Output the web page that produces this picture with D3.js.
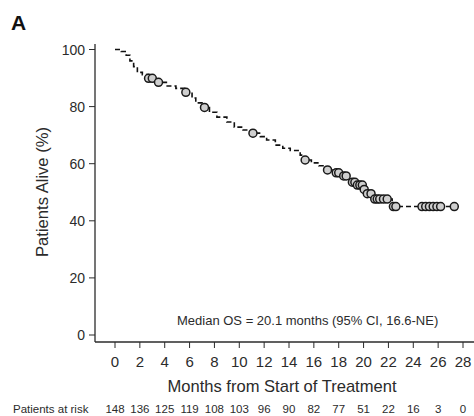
<!DOCTYPE html>
<html>
<head>
<meta charset="utf-8">
<script src="https://cdn.jsdelivr.net/npm/d3@7"></script>
<style>
  body { margin: 0; background: #fff; }
  svg { display: block; font-family: "Liberation Sans", Arial, sans-serif; }
</style>
</head>
<body>
<div id="chart"></div>
<script>
// KM step function: time (months) and survival (%) after each step
const stepTimes = [0, 0.5, 0.9, 1.2, 1.5, 1.8, 2.2, 2.7, 3.4, 4.2, 4.9, 5.6, 6.2, 6.5, 7.0, 7.6, 8.2, 9.0, 9.6, 10.3,
  11.0, 11.7, 12.2, 12.9, 13.5, 14.1, 14.9, 15.2, 15.8, 16.4, 16.9, 17.6, 18.3, 18.7, 19.0, 19.4, 20.0, 20.1, 20.8, 22.3];
const stepSurv = [100, 99.3, 98.0, 96.0, 94.0, 92.0, 91.2, 89.9, 88.5, 87.2, 86.4, 85.0, 83.0, 81.3, 79.7, 78.0, 76.3, 74.6, 72.8, 71.8,
  70.7, 69.5, 68.3, 66.5, 65.4, 64.6, 63.0, 61.3, 60.3, 59.3, 57.8, 56.8, 55.7, 54.6, 53.5, 52.5, 51.0, 49.5, 47.6, 45.0];
const endTime = 27.3;

// censored observations (months)
const censorTimes = [2.7, 3.0, 3.5, 5.7, 7.2, 11.1, 15.3, 17.1, 17.8, 18.0, 18.4, 18.6, 19.1, 19.3, 19.5, 19.7, 19.9, 20.05,
  20.3, 20.6, 20.9, 21.1, 21.3, 21.6, 21.9, 22.4, 22.6, 24.7, 25.0, 25.3, 25.6, 25.9, 26.2, 27.3];

const xTicks = [0, 2, 4, 6, 8, 10, 12, 14, 16, 18, 20, 22, 24, 26, 28];
const yTicks = [0, 20, 40, 60, 80, 100];
const atRisk = [148, 136, 125, 119, 108, 103, 96, 90, 82, 77, 51, 22, 16, 3, 0];

const width = 474, height = 416;
const svg = d3.select('#chart').append('svg')
  .attr('width', width)
  .attr('height', height);

const x = d3.scaleLinear().domain([0, 28]).range([115, 463]);
const y = d3.scaleLinear().domain([0, 100]).range([335, 49.5]);

const ink = '#2b2b2b';

// survival at time t
function survAt(t) {
  let s = stepSurv[0];
  for (let i = 0; i < stepTimes.length; i++) {
    if (stepTimes[i] <= t) s = stepSurv[i];
  }
  return s;
}

// axes
svg.append('line')
  .attr('x1', 95).attr('x2', 95)
  .attr('y1', 44).attr('y2', 342)
  .attr('stroke', ink).attr('stroke-width', 1.3);
svg.append('line')
  .attr('x1', 95).attr('x2', 474)
  .attr('y1', 342).attr('y2', 342)
  .attr('stroke', ink).attr('stroke-width', 1.3);

const yAxis = svg.append('g');
yTicks.forEach(v => {
  yAxis.append('line')
    .attr('x1', 89).attr('x2', 95)
    .attr('y1', y(v)).attr('y2', y(v))
    .attr('stroke', ink).attr('stroke-width', 1);
  yAxis.append('text')
    .attr('x', 85).attr('y', y(v) + 5)
    .attr('text-anchor', 'end')
    .attr('font-size', 14)
    .attr('fill', ink)
    .text(v);
});

const xAxis = svg.append('g');
xTicks.forEach(v => {
  xAxis.append('line')
    .attr('x1', x(v)).attr('x2', x(v))
    .attr('y1', 342).attr('y2', 348)
    .attr('stroke', ink).attr('stroke-width', 1);
  xAxis.append('text')
    .attr('x', x(v)).attr('y', 367)
    .attr('text-anchor', 'middle')
    .attr('font-size', 15)
    .attr('fill', ink)
    .text(v);
});

// axis titles
svg.append('text')
  .attr('x', 282).attr('y', 392)
  .attr('text-anchor', 'middle')
  .attr('font-size', 17)
  .attr('fill', ink)
  .attr('textLength', 229)
  .attr('lengthAdjust', 'spacingAndGlyphs')
  .text('Months from Start of Treatment');

svg.append('text')
  .attr('transform', 'translate(48,192) rotate(-90)')
  .attr('text-anchor', 'middle')
  .attr('font-size', 16)
  .attr('fill', ink)
  .attr('textLength', 130)
  .attr('lengthAdjust', 'spacingAndGlyphs')
  .text('Patients Alive (%)');

// panel letter
svg.append('text')
  .attr('x', 11).attr('y', 30)
  .attr('font-size', 21)
  .attr('font-weight', 'bold')
  .attr('fill', '#111')
  .text('A');

// annotation
svg.append('text')
  .attr('x', 177).attr('y', 325)
  .attr('font-size', 13)
  .attr('fill', ink)
  .text('Median OS = 20.1 months (95% CI, 16.6-NE)');

// patients at risk
svg.append('text')
  .attr('x', 13).attr('y', 413)
  .attr('font-size', 11.5)
  .attr('fill', ink)
  .text('Patients at risk');
svg.append('g').selectAll('text')
  .data(atRisk)
  .join('text')
  .attr('x', (d, i) => x(xTicks[i]))
  .attr('y', 413)
  .attr('text-anchor', 'middle')
  .attr('font-size', 11.5)
  .attr('fill', ink)
  .text(d => d);

// KM curve
const pts = stepTimes.map((t, i) => [t, stepSurv[i]]);
pts.push([endTime, stepSurv[stepSurv.length - 1]]);
const line = d3.line()
  .x(d => x(d[0]))
  .y(d => y(d[1]))
  .curve(d3.curveStepAfter);
svg.append('path')
  .attr('d', line(pts))
  .attr('fill', 'none')
  .attr('stroke', '#111')
  .attr('stroke-width', 1.6)
  .attr('stroke-dasharray', '5,3');

// censor marks
svg.append('g').selectAll('circle')
  .data(censorTimes)
  .join('circle')
  .attr('cx', d => x(d))
  .attr('cy', d => y(survAt(d)))
  .attr('r', 4)
  .attr('fill', '#cfcfcf')
  .attr('stroke', '#1a1a1a')
  .attr('stroke-width', 1.5);
</script>
</body>
</html>
